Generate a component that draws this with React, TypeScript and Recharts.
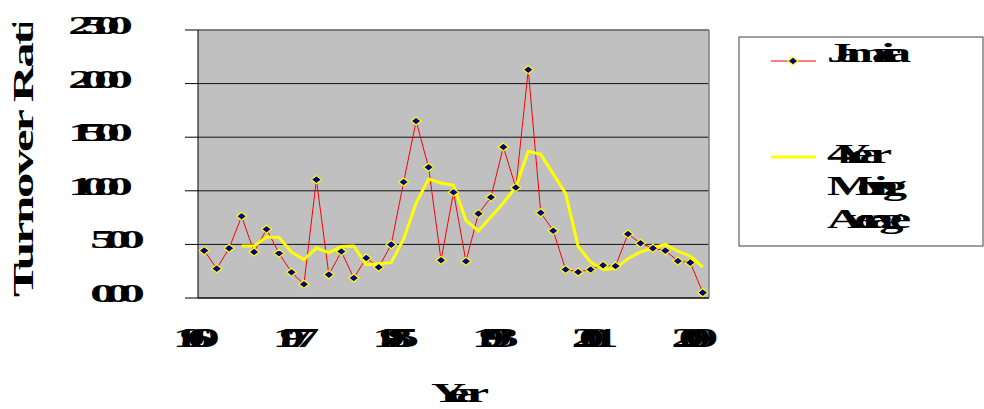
import { CartesianGrid, Line, LineChart, ReferenceLine, XAxis, YAxis } from "recharts";

const years = [
  1969, 1970, 1971, 1972, 1973, 1974, 1975, 1976, 1977, 1978, 1979, 1980, 1981, 1982,
  1983, 1984, 1985, 1986, 1987, 1988, 1989, 1990, 1991, 1992, 1993, 1994, 1995, 1996,
  1997, 1998, 1999, 2000, 2001, 2002, 2003, 2004, 2005, 2006, 2007, 2008, 2009,
];

const jamaica = [
  4.42, 2.74, 4.64, 7.62, 4.29, 6.41, 4.17, 2.4, 1.28, 11.04, 2.18, 4.33, 1.87, 3.73,
  2.86, 4.98, 10.82, 16.51, 12.19, 3.52, 9.86, 3.42, 7.87, 9.39, 14.09, 10.3, 21.3, 7.96,
  6.28, 2.65, 2.43, 2.65, 3.05, 2.99, 5.97, 5.1, 4.64, 4.42, 3.45, 3.3, 0.5,
];

// 4 year moving average, as plotted (no value for the first three years)
const movingAvg = [
  null, null, null, 4.85, 4.85, 5.69, 5.65, 4.29, 3.58, 4.66, 4.23, 4.8, 4.85, 3.11,
  3.2, 3.3, 5.48, 8.86, 11.1, 10.73, 10.51, 7.25, 6.25, 7.56, 8.86, 10.36, 13.68, 13.4,
  11.6, 9.74, 4.82, 3.36, 2.65, 2.74, 3.67, 4.29, 4.66, 5.01, 4.36, 3.92, 2.89,
];

const labelYears = [1969, 1977, 1985, 1993, 2001, 2009];
const yTicks = [0, 5, 10, 15, 20, 25];
const seriesNames = ["Jamaica", "4 Year Moving Average"];

const rows = years.map((year, i) => ({ year, jamaica: jamaica[i], avg: movingAvg[i] }));

// tick marks sit between the years, like an Excel category axis
const yearEdges = [...years.map((y) => y - 0.5), years[years.length - 1] + 0.5];
const xDomain = [years[0] - 0.5, years[years.length - 1] + 0.5];

const SERIF = "'Liberation Serif', 'Times New Roman', serif";

// the source text is wide bold glyphs crammed together so they overlap
function Squeezed({
  x,
  y,
  text,
  size,
  width,
  stretch = 1.8,
  anchor = "start",
  rotate = 0,
}: {
  x: number;
  y: number;
  text: string;
  size: number;
  width: number;
  stretch?: number;
  anchor?: "start" | "middle" | "end";
  rotate?: number;
}) {
  return (
    <g transform={`translate(${x},${y}) rotate(${rotate}) scale(${stretch},1)`}>
      <text
        x={0}
        y={0}
        textAnchor={anchor}
        fontFamily={SERIF}
        fontWeight="bold"
        fontSize={size}
        fill="#000"
        textLength={width / stretch}
        lengthAdjust="spacing"
      >
        {text}
      </text>
    </g>
  );
}

function ValueTick(props: any) {
  const { x, y, payload } = props;
  const label = Number(payload.value).toFixed(2);
  const short = label.length < 5;
  return (
    <Squeezed
      x={x + (short ? 12 : 0)}
      y={y + 4}
      text={label}
      size={26}
      width={short ? 55 : 65}
      stretch={2}
      anchor="end"
    />
  );
}

function YearTick(props: any) {
  const { x, y, payload } = props;
  return (
    <Squeezed x={x - 8} y={y + 41} text={String(payload.value)} size={27} width={47} stretch={1.9} anchor="middle" />
  );
}

function Diamond(props: any) {
  const { cx, cy, index } = props;
  if (cx == null || cy == null) return null;
  return (
    <polygon
      key={`d-${index}`}
      points={`${cx - 5},${cy} ${cx},${cy - 4} ${cx + 5},${cy} ${cx},${cy + 4}`}
      fill="#000080"
      stroke="#FFFF00"
      strokeWidth={1.2}
    />
  );
}

export default function App() {
  return (
    <div style={{ position: "absolute", left: 0, top: 0, width: 984, height: 409, background: "#fff" }}>
      <LineChart width={984} height={409} data={rows} margin={{ top: 30, right: 275, bottom: 0, left: 0 }}>
        <CartesianGrid vertical={false} fill="#C0C0C0" stroke="#111" strokeOpacity={1} />
        <XAxis
          dataKey="year"
          type="number"
          domain={xDomain}
          ticks={yearEdges}
          tick={false}
          tickSize={8}
          height={8}
          axisLine={{ stroke: "#000" }}
          tickLine={{ stroke: "#000" }}
        />
        <XAxis
          xAxisId="lab"
          dataKey="year"
          type="number"
          domain={xDomain}
          ticks={labelYears}
          tick={<YearTick />}
          tickSize={0}
          tickMargin={0}
          height={103}
          axisLine={false}
          tickLine={false}
        />
        <YAxis
          domain={[0, 25]}
          ticks={yTicks}
          width={198}
          tickSize={13}
          tickMargin={52}
          tick={<ValueTick />}
          axisLine={{ stroke: "#000" }}
          tickLine={{ stroke: "#000" }}
        />
        <ReferenceLine y={25} stroke="#808080" strokeWidth={1.5} />
        <ReferenceLine x={xDomain[1]} stroke="#808080" strokeWidth={1.5} />
        <Line
          dataKey="jamaica"
          name={seriesNames[0]}
          stroke="#FF0000"
          strokeWidth={1}
          dot={<Diamond />}
          activeDot={false}
          isAnimationActive={false}
        />
        <Line
          dataKey="avg"
          name={seriesNames[1]}
          stroke="#FFFF00"
          strokeWidth={3}
          dot={false}
          activeDot={false}
          connectNulls={false}
          isAnimationActive={false}
        />
      </LineChart>

      <svg width={984} height={409} style={{ position: "absolute", left: 0, top: 0, pointerEvents: "none" }}>
        <defs>
          <clipPath id="ytitle-clip">
            <rect x={0} y={23} width={60} height={300} />
          </clipPath>
        </defs>
        <g clipPath="url(#ytitle-clip)">
          <Squeezed x={33} y={297} text="Turnover Ratio" size={30} width={304} stretch={1.7} rotate={-90} />
        </g>
        <Squeezed x={460} y={402} text="Year" size={27} width={58} anchor="middle" />

        <rect x={739} y={37} width={244} height={209} fill="#fff" stroke="#404040" strokeWidth={1} />
        <line x1={771} y1={61} x2={816} y2={61} stroke="#FF0000" strokeWidth={1} />
        <Diamond cx={793} cy={61} index={0} />
        <Squeezed x={827} y={62} text={seriesNames[0]} size={27} width={84} />
        <line x1={771} y1={157} x2={816} y2={157} stroke="#FFFF00" strokeWidth={3} />
        <Squeezed x={827} y={163} text="4 Year" size={27} width={65} />
        <Squeezed x={827} y={195} text="Moving" size={27} width={80} />
        <Squeezed x={827} y={228} text="Average" size={27} width={84} />
      </svg>
    </div>
  );
}
